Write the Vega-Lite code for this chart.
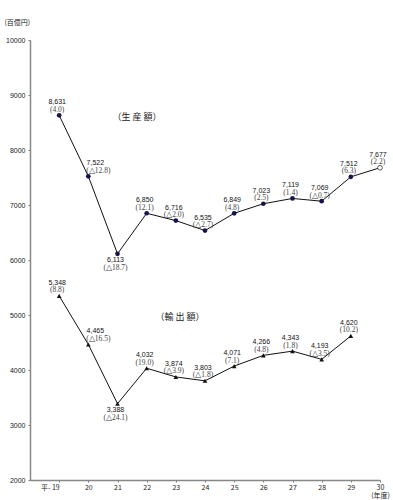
{
  "$schema": "https://vega.github.io/schema/vega-lite/v6.json",
  "width": 350,
  "height": 440,
  "autosize": "none",
  "padding": {"left": 30, "top": 40, "right": 13, "bottom": 20},
  "background": "white",
  "config": {"view": {"stroke": null}},
  "datasets": {
    "main": [
      {"series": "生産額", "year": 19, "value": 8631, "pct": "(4.0)"},
      {"series": "生産額", "year": 20, "value": 7522, "pct": "(△12.8)"},
      {"series": "生産額", "year": 21, "value": 6113, "pct": "(△18.7)"},
      {"series": "生産額", "year": 22, "value": 6850, "pct": "(12.1)"},
      {"series": "生産額", "year": 23, "value": 6716, "pct": "(△2.0)"},
      {"series": "生産額", "year": 24, "value": 6535, "pct": "(△2.7)"},
      {"series": "生産額", "year": 25, "value": 6849, "pct": "(4.8)"},
      {"series": "生産額", "year": 26, "value": 7023, "pct": "(2.5)"},
      {"series": "生産額", "year": 27, "value": 7119, "pct": "(1.4)"},
      {"series": "生産額", "year": 28, "value": 7069, "pct": "(△0.7)"},
      {"series": "生産額", "year": 29, "value": 7512, "pct": "(6.3)"},
      {"series": "生産額", "year": 30, "value": 7677, "pct": "(2.2)"},
      {"series": "輸出額", "year": 19, "value": 5348, "pct": "(8.8)"},
      {"series": "輸出額", "year": 20, "value": 4465, "pct": "(△16.5)"},
      {"series": "輸出額", "year": 21, "value": 3388, "pct": "(△24.1)"},
      {"series": "輸出額", "year": 22, "value": 4032, "pct": "(19.0)"},
      {"series": "輸出額", "year": 23, "value": 3874, "pct": "(△3.9)"},
      {"series": "輸出額", "year": 24, "value": 3803, "pct": "(△1.8)"},
      {"series": "輸出額", "year": 25, "value": 4071, "pct": "(7.1)"},
      {"series": "輸出額", "year": 26, "value": 4266, "pct": "(4.8)"},
      {"series": "輸出額", "year": 27, "value": 4343, "pct": "(1.8)"},
      {"series": "輸出額", "year": 28, "value": 4193, "pct": "(△3.5)"},
      {"series": "輸出額", "year": 29, "value": 4620, "pct": "(10.2)"}
    ],
    "titles": [
      {"year": 21.67, "value": 8600, "t": "（生 産 額）"},
      {"year": 23.14, "value": 4964, "t": "（輸 出 額）"}
    ]
  },
  "data": {"name": "main"},
  "encoding": {
    "x": {
      "field": "year", "type": "quantitative",
      "scale": {"domain": [18, 30], "nice": false, "zero": false},
      "axis": {
        "values": [19, 20, 21, 22, 23, 24, 25, 26, 27, 28, 29, 30],
        "title": null, "grid": false,
        "domainColor": "#888", "domainWidth": 1.5,
        "tickColor": "#777", "tickSize": 2,
        "labelExpr": "datum.value == 19 ? '平- 19' : (datum.value == 30 ? ['30', '(年度)'] : datum.label)",
        "labelFont": "Noto Sans CJK JP", "labelFontSize": 7, "labelColor": "#222",
        "labelPadding": 1, "labelLineHeight": 8.5, "labelBaseline": "top",
        "labelAlign": {"condition": {"test": "datum.value == 19", "value": "right"}, "value": "center"}
      }
    },
    "y": {
      "field": "value", "type": "quantitative",
      "scale": {"domain": [2000, 10000], "nice": false, "zero": false},
      "axis": {
        "values": [2000, 3000, 4000, 5000, 6000, 7000, 8000, 9000, 10000],
        "format": "d", "grid": false,
        "domainColor": "#888", "domainWidth": 1.5,
        "tickColor": "#777", "tickSize": 2,
        "labelFont": "Liberation Sans", "labelFontSize": 7, "labelColor": "#222", "labelPadding": 3,
        "title": "(百億円)", "titleAngle": 0, "titleAlign": "left", "titleBaseline": "middle",
        "titleX": -26, "titleY": -18, "titleFont": "Noto Sans CJK JP", "titleFontSize": 7,
        "titleFontWeight": "normal", "titleColor": "#222"
      }
    }
  },
  "layer": [
    {"mark": {"type": "line", "color": "#111", "strokeWidth": 1}, "encoding": {"detail": {"field": "series"}}},
    {
      "transform": [{"filter": "datum.series == '生産額' && datum.year < 30"}],
      "mark": {"type": "circle", "size": 22, "color": "#14144a", "opacity": 1}
    },
    {
      "transform": [{"filter": "datum.series == '生産額' && datum.year == 30"}],
      "mark": {"type": "point", "shape": "circle", "size": 22, "filled": true, "fill": "white", "stroke": "#333", "strokeWidth": 0.8, "opacity": 1}
    },
    {
      "transform": [{"filter": "datum.series == '輸出額'"}],
      "mark": {"type": "point", "shape": "triangle-up", "size": 22, "filled": true, "color": "#111", "opacity": 1}
    },
    {
      "transform": [{"filter": "datum.year != 21 && datum.year != 20"}],
      "mark": {"type": "text", "font": "Liberation Sans", "fontSize": 7, "color": "#111", "dy": -13, "dx": -2, "baseline": "middle"},
      "encoding": {"text": {"field": "value", "format": ",d"}}
    },
    {
      "transform": [{"filter": "datum.year != 21 && datum.year != 20"}],
      "mark": {"type": "text", "font": "Liberation Serif", "fontSize": 7.5, "color": "#444", "dy": -5.5, "dx": -2, "baseline": "middle"},
      "encoding": {"text": {"field": "pct"}}
    },
    {
      "transform": [{"filter": "datum.year == 20"}],
      "mark": {"type": "text", "font": "Liberation Sans", "fontSize": 7, "color": "#111", "dy": -13, "dx": 7, "baseline": "middle"},
      "encoding": {"text": {"field": "value", "format": ",d"}}
    },
    {
      "transform": [{"filter": "datum.year == 20"}],
      "mark": {"type": "text", "font": "Liberation Serif", "fontSize": 7.5, "color": "#444", "dy": -5.5, "dx": 10, "baseline": "middle"},
      "encoding": {"text": {"field": "pct"}}
    },
    {
      "transform": [{"filter": "datum.year == 21"}],
      "mark": {"type": "text", "font": "Liberation Sans", "fontSize": 7, "color": "#111", "dy": 6, "dx": -2, "baseline": "middle"},
      "encoding": {"text": {"field": "value", "format": ",d"}}
    },
    {
      "transform": [{"filter": "datum.year == 21"}],
      "mark": {"type": "text", "font": "Liberation Serif", "fontSize": 7.5, "color": "#444", "dy": 14, "dx": -2, "baseline": "middle"},
      "encoding": {"text": {"field": "pct"}}
    },
    {
      "data": {"name": "titles"},
      "mark": {"type": "text", "font": "Noto Sans CJK JP", "fontSize": 9, "color": "#222", "baseline": "middle"},
      "encoding": {"text": {"field": "t"}}
    }
  ]
}
